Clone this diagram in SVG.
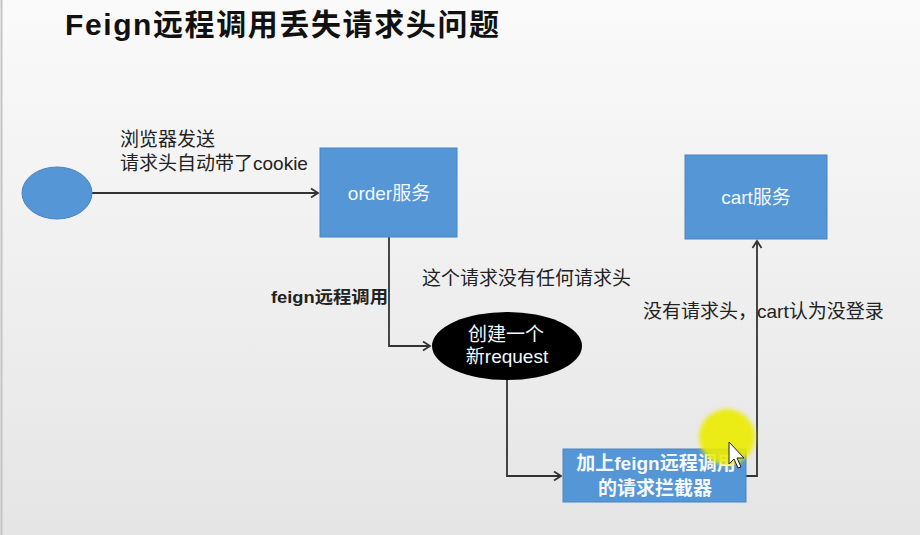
<svg xmlns="http://www.w3.org/2000/svg" width="920" height="535" viewBox="0 0 920 535">
<defs>
<linearGradient id="bg" x1="0" y1="0" x2="0" y2="1">
<stop offset="0" stop-color="#fafafa"/>
<stop offset="1" stop-color="#e5e5e5"/>
</linearGradient>
<marker id="arr" markerWidth="12" markerHeight="12" refX="10" refY="6" orient="auto" markerUnits="userSpaceOnUse">
<polyline points="3,1.5 10,6 3,10.5" fill="none" stroke="#333" stroke-width="1.8"/>
</marker>
<filter id="soft" x="-30%" y="-30%" width="160%" height="160%"><feGaussianBlur stdDeviation="2"/></filter>
</defs>
<style>
.t{font-family:"Liberation Sans","Noto Sans CJK SC",sans-serif;font-size:19px;fill:#222}
.w{fill:#f4f8ff;text-anchor:middle}
.b{font-weight:bold}
.box{fill:#5596d6;stroke:#4a84bf;stroke-width:1}
.c{fill:none;stroke:#333;stroke-width:1.8}
</style>
<rect width="920" height="535" fill="url(#bg)"/>
<line x1="1.5" y1="0" x2="1.5" y2="535" stroke="#c4c4c4" stroke-width="2"/>
<text x="65" y="35" class="t b" style="font-size:30px;fill:#111;letter-spacing:1.6px">Feign远程调用丢失请求头问题</text>

<g id="connectors">
<line class="c" x1="92" y1="193" x2="318" y2="193" marker-end="url(#arr)"/>
<polyline class="c" points="389,237 389,346 430,346" marker-end="url(#arr)"/>
<polyline class="c" points="507,380 507,476 561,476" marker-end="url(#arr)"/>
<polyline class="c" points="746,476 757,476 757,241" marker-end="url(#arr)"/>
</g>

<g id="labels">
<text x="120" y="146" class="t">浏览器发送</text>
<text x="120" y="170" class="t">请求头自动带了cookie</text>
<text x="271" y="303" class="t b" style="font-size:17px" textLength="117" lengthAdjust="spacingAndGlyphs">feign远程调用</text>
<text x="422" y="285" class="t">这个请求没有任何请求头</text>
<text x="643" y="318" class="t">没有请求头，cart认为没登录</text>
</g>

<g id="client">
<ellipse cx="57" cy="193" rx="35" ry="26" fill="#5596d6" stroke="#4a84bf" stroke-width="1"/>
</g>

<g id="order">
<rect class="box" x="320" y="148" width="137" height="89"/>
<text x="389" y="200" class="t w">order服务</text>
</g>

<g id="cart">
<rect class="box" x="685" y="155" width="142" height="84"/>
<text x="756" y="204" class="t w">cart服务</text>
</g>

<g id="newrequest">
<ellipse cx="507" cy="346" rx="75" ry="34" fill="#000"/>
<text x="506" y="341" class="t w">创建一个</text>
<text x="507" y="363" class="t w">新request</text>
</g>

<g id="interceptor">
<rect class="box" x="563" y="449" width="183" height="53"/>
<text x="656" y="470" class="t w b">加上feign远程调用</text>
<text x="655" y="495" class="t w b">的请求拦截器</text>
</g>

<g id="cursor">
<circle cx="727" cy="437" r="28" fill="#ecec00" opacity="0.9" filter="url(#soft)"/>
<polygon points="729,442 729,464 734,459 738,468 741,467 737,458 744,458" fill="#fff" stroke="#222" stroke-width="1"/>
</g>
</svg>
